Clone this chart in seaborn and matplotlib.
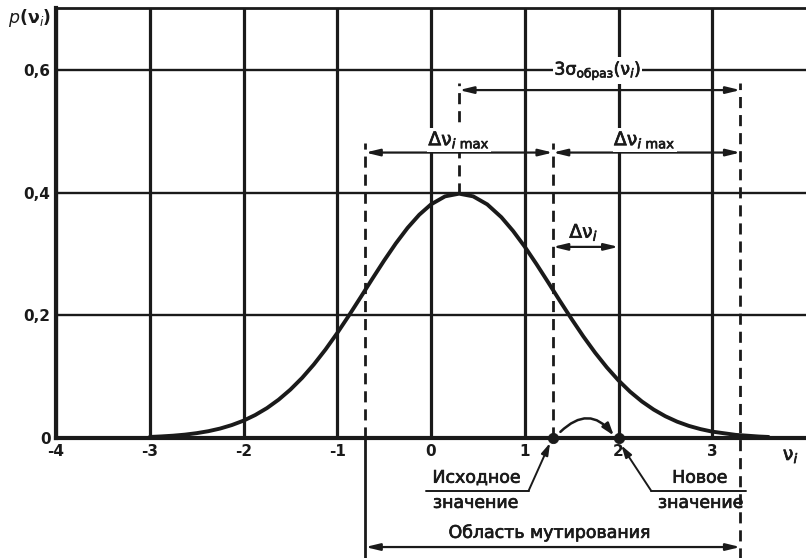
# -*- coding: utf-8 -*-
# Плотность распределения мутации параметра v_i
import matplotlib
matplotlib.use('Agg')
import matplotlib.pyplot as plt
import matplotlib.patheffects as pe
import seaborn as sns
import pandas as pd

# %% Данные
nu = [-3.0, -2.875, -2.75, -2.625, -2.5, -2.375, -2.25, -2.125, -2.0, -1.875,
      -1.75, -1.625, -1.5, -1.375, -1.25, -1.125, -1.0, -0.875, -0.75, -0.625,
      -0.5, -0.375, -0.25, -0.125, 0.0, 0.15, 0.3, 0.45, 0.6, 0.75, 0.875, 1.0,
      1.125, 1.25, 1.375, 1.5, 1.625, 1.75, 1.875, 2.0, 2.125, 2.25, 2.375, 2.5,
      2.625, 2.75, 2.875, 3.0, 3.25, 3.5, 3.6]
p_nu = [0.0017, 0.0026, 0.0038, 0.0055, 0.0079, 0.0111, 0.0154, 0.0211, 0.0283,
        0.0375, 0.0488, 0.0626, 0.0790, 0.0981, 0.1200, 0.1445, 0.1714, 0.2001,
        0.2299, 0.2601, 0.2897, 0.3177, 0.3430, 0.3645, 0.3814, 0.3945, 0.3989,
        0.3945, 0.3814, 0.3605, 0.3381, 0.3123, 0.2839, 0.2541, 0.2238, 0.1942,
        0.1658, 0.1394, 0.1154, 0.0940, 0.0754, 0.0596, 0.0464, 0.0355, 0.0267,
        0.0198, 0.0145, 0.0104, 0.0051, 0.0024, 0.0017]

x_ticks = [-4, -3, -2, -1, 0, 1, 2, 3]
x_labels = ['-4', '-3', '-2', '-1', '0', '1', '2', '3']
y_ticks = [0, 0.2, 0.4, 0.6]
y_labels = ['0', '0,2', '0,4', '0,6']

nu_mean = 0.3          # центр распределения
nu_old = 1.3           # исходное значение
nu_new = 2.0           # новое значение
region = [-0.7, 3.3]   # область мутирования
p_peak = 0.3989

df = pd.DataFrame({'nu': nu, 'p': p_nu})

# %% Оформление
sns.set_theme(style='white')
plt.rcParams['font.family'] = ['DejaVu Sans']
plt.rcParams['mathtext.fontset'] = 'dejavusans'
plt.rcParams['text.color'] = 'black'
plt.rcParams['xtick.color'] = 'black'
plt.rcParams['ytick.color'] = 'black'

fig = plt.figure(figsize=(8.06, 5.58), dpi=100)
ax = fig.add_axes([56 / 806, 120 / 558, 750 / 806, 430 / 558])
ax.set_xlim(-4, 4)
ax.set_ylim(0, 0.702)

ax.set_xticks(x_ticks)
ax.set_xticklabels(x_labels, fontsize=11, fontweight='bold')
ax.set_yticks(y_ticks)
ax.set_yticklabels(y_labels, fontsize=11, fontweight='bold')
ax.tick_params(axis='both', length=0, colors='k', labelcolor='k')
ax.tick_params(axis='x', pad=4)
ax.tick_params(axis='y', pad=4)

ax.set_axisbelow(True)
ax.xaxis.grid(True, color='k', lw=2.3)
ax.yaxis.grid(True, color='k', lw=1.7)
ax.spines['left'].set_linewidth(3)
ax.spines['bottom'].set_linewidth(3)
ax.spines['top'].set_linewidth(2)
ax.spines['right'].set_visible(False)
for s in ax.spines.values():
    s.set_color('k')

# немного утолщённый шрифт, как на скане
thick = [pe.withStroke(linewidth=0.5, foreground='k')]

# %% Кривая
sns.lineplot(data=df, x='nu', y='p', color='k', lw=2.8, ax=ax, zorder=5,
             solid_joinstyle='round', solid_capstyle='round')
ax.set_xlabel('')
ax.set_ylabel('')

# %% Штриховые линии
dash = dict(color='k', lw=2, ls=(0, (4, 2.5)), zorder=3, clip_on=False)
ax.plot([region[0], region[0]], [0, 0.482], **dash)
ax.plot([nu_old, nu_old], [0, 0.482], **dash)
ax.plot([nu_mean, nu_mean], [p_peak, 0.58], **dash)
ax.plot([region[1], region[1]], [-0.2, 0.58], **dash)
ax.plot([region[0], region[0]], [0, -0.2], color='k', lw=2, clip_on=False)

# %% Стрелки размеров
arr = dict(arrowstyle='<|-|>,head_length=0.7,head_width=0.17', color='k', lw=1.6,
           shrinkA=0, shrinkB=0)


def dim_arrow(x1, x2, y):
    ax.annotate('', xy=(x2, y), xytext=(x1, y), arrowprops=arr,
                annotation_clip=False, zorder=6)


def label(x, y, s, size=12.5, **kw):
    t = ax.text(x, y, s, ha='center', va=kw.pop('va', 'baseline'),
                fontsize=size, color='k', **kw)
    t.set_path_effects(thick)
    return t


box = dict(facecolor='white', edgecolor='none', pad=0.8)

dim_arrow(nu_mean, region[1], 0.568)
label(1.78, 0.6, r'3σ$_{\mathrm{образ}}$(ν$_{\mathit{i}}$)', va='center',
      bbox=box, zorder=7)

dim_arrow(region[0], nu_old, 0.466)
dim_arrow(nu_old, region[1], 0.466)
label(nu_mean, 0.478, r'Δν$_{\mathit{i}\ \mathrm{max}}$', 13.5, bbox=box, zorder=7)
label(2.28, 0.478, r'Δν$_{\mathit{i}\ \mathrm{max}}$', 13.5, bbox=box, zorder=7)

dim_arrow(nu_old, nu_new, 0.312)
label(1.63, 0.327, r'Δν$_{\mathit{i}}$', 13.5, zorder=7)

dim_arrow(region[0], region[1], -0.178)
label(1.27, -0.163, 'Область мутирования')

# %% Исходное и новое значения
sns.scatterplot(x=[nu_old, nu_new], y=[0, 0], color='k', s=55, ax=ax,
                zorder=8, clip_on=False, edgecolor='k')

ax.annotate('', xy=(1.95, 0.004), xytext=(1.38, 0.01),
            arrowprops=dict(arrowstyle='-|>,head_length=0.6,head_width=0.2',
                            color='k', lw=1.8, connectionstyle='arc3,rad=-0.55',
                            shrinkA=0, shrinkB=0), zorder=8)

lead = dict(arrowstyle='-|>,head_length=0.6,head_width=0.18', color='k', lw=1.4,
            shrinkA=0, shrinkB=0)
ax.plot([-0.05, 1.04], [-0.0865, -0.0865], color='k', lw=1.4, clip_on=False)
ax.annotate('', xy=(1.27, -0.008), xytext=(1.04, -0.0865), arrowprops=lead,
            annotation_clip=False)
label(0.49, -0.073, 'Исходное')
label(0.48, -0.114, 'значение')

ax.plot([2.35, 3.36], [-0.0865, -0.0865], color='k', lw=1.4, clip_on=False)
ax.annotate('', xy=(2.03, -0.012), xytext=(2.35, -0.0865), arrowprops=lead,
            annotation_clip=False)
label(2.87, -0.073, 'Новое')
label(2.88, -0.114, 'значение')

# %% Подписи осей
label(3.84, -0.036, r'ν$_{\mathit{i}}$', 13.5)
fig.text(30 / 806, 1 - 18 / 558, r'$\mathit{p}$(ν$_{\mathit{i}}$)', ha='center',
         va='center', fontsize=12.5, fontweight='bold', color='k')

fig.savefig('out.png', dpi=100)
